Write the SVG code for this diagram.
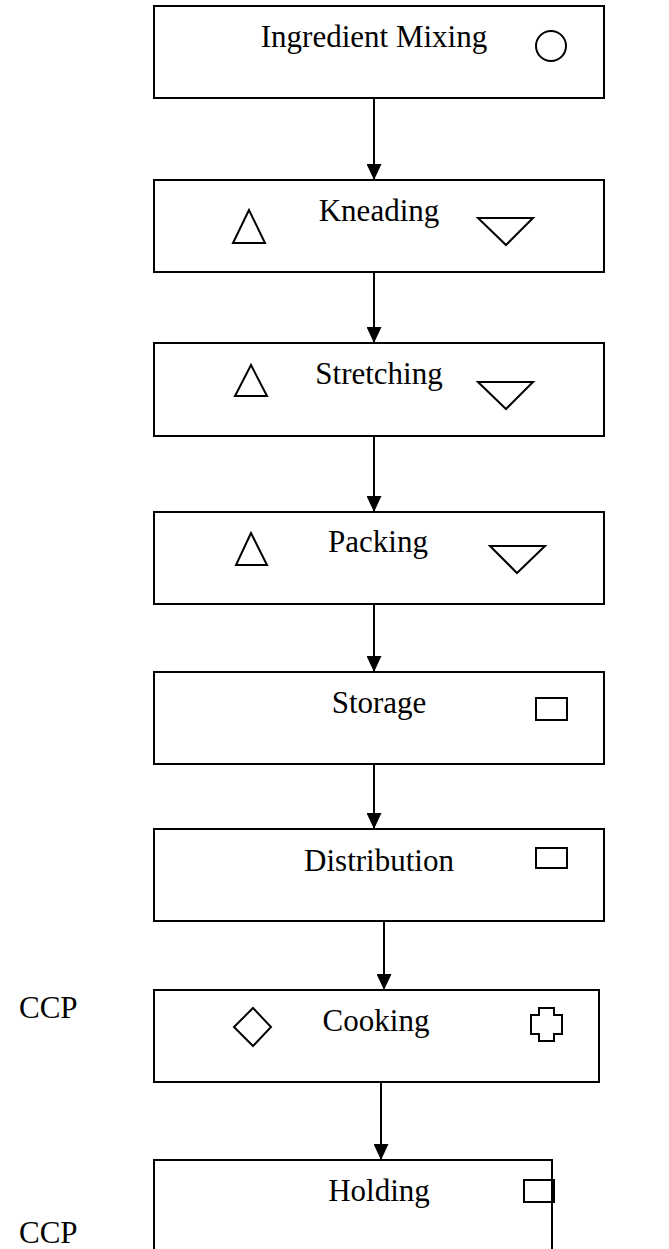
<svg xmlns="http://www.w3.org/2000/svg" width="669" height="1249" viewBox="0 0 669 1249">
  <defs>
    <marker id="arrow" viewBox="0 0 16 15" refX="16" refY="7.5" markerWidth="16" markerHeight="15" markerUnits="userSpaceOnUse" orient="auto">
      <path d="M0,0 L16,7.5 L0,15 Z" fill="#000"/>
    </marker>
    <style>
      .box { fill: #fff; stroke: #000; stroke-width: 2; }
      .sym { fill: none; stroke: #000; stroke-width: 2; }
      .lbl { font-family: "Liberation Serif", "Times New Roman", serif; font-size: 31px; fill: #000; text-anchor: middle; }
      .side { font-family: "Liberation Serif", "Times New Roman", serif; font-size: 31px; fill: #000; }
      .conn { stroke: #000; stroke-width: 2; fill: none; marker-end: url(#arrow); }
    </style>
  </defs>
  <rect width="669" height="1249" fill="#fff"/>

  <!-- process steps -->
  <g id="ingredient-mixing">
    <rect class="box" x="154" y="6" width="450" height="92"/>
    <text class="lbl" x="374" y="47">Ingredient Mixing</text>
    <circle class="sym" cx="551" cy="46" r="15"/>
  </g>

  <g id="kneading">
    <rect class="box" x="154" y="180" width="450" height="92"/>
    <text class="lbl" x="379" y="221">Kneading</text>
    <polygon class="sym" points="249,210 233,243 265,243"/>
    <polygon class="sym" points="478,218 533,218 506,245"/>
  </g>

  <g id="stretching">
    <rect class="box" x="154" y="343" width="450" height="93"/>
    <text class="lbl" x="379" y="384">Stretching</text>
    <polygon class="sym" points="251,365 235,396 267,396"/>
    <polygon class="sym" points="478,382 533,382 506,409"/>
  </g>

  <g id="packing">
    <rect class="box" x="154" y="512" width="450" height="92"/>
    <text class="lbl" x="378" y="552">Packing</text>
    <polygon class="sym" points="251,533 236,565 267,565"/>
    <polygon class="sym" points="490,546 545,546 517,573"/>
  </g>

  <g id="storage">
    <rect class="box" x="154" y="672" width="450" height="92"/>
    <text class="lbl" x="379" y="713">Storage</text>
    <rect class="sym" x="536" y="698" width="31" height="22"/>
  </g>

  <g id="distribution">
    <rect class="box" x="154" y="829" width="450" height="92"/>
    <text class="lbl" x="379" y="871">Distribution</text>
    <rect class="sym" x="536" y="848" width="31" height="20"/>
  </g>

  <g id="cooking">
    <rect class="box" x="154" y="990" width="445" height="92"/>
    <text class="lbl" x="376" y="1031">Cooking</text>
    <polygon class="sym" points="253,1008 271,1027 253,1046 234,1027"/>
    <path class="sym" d="M539,1008 H554 V1015 H562 V1034 H554 V1041 H539 V1034 H531 V1015 H539 Z"/>
  </g>
  <text id="ccp-cooking" class="side" x="19" y="1018">CCP</text>

  <g id="holding">
    <rect class="box" x="154" y="1160" width="398" height="100"/>
    <text class="lbl" x="379" y="1201">Holding</text>
    <rect class="sym" x="524" y="1180" width="30" height="22"/>
  </g>
  <text id="ccp-holding" class="side" x="19" y="1243">CCP</text>

  <!-- connectors -->
  <g id="connectors">
    <line class="conn" x1="374" y1="98" x2="374" y2="180"/>
    <line class="conn" x1="374" y1="272" x2="374" y2="343"/>
    <line class="conn" x1="374" y1="436" x2="374" y2="512"/>
    <line class="conn" x1="374" y1="604" x2="374" y2="672"/>
    <line class="conn" x1="374" y1="764" x2="374" y2="829"/>
    <line class="conn" x1="384" y1="921" x2="384" y2="990"/>
    <line class="conn" x1="381" y1="1082" x2="381" y2="1160"/>
  </g>
</svg>
